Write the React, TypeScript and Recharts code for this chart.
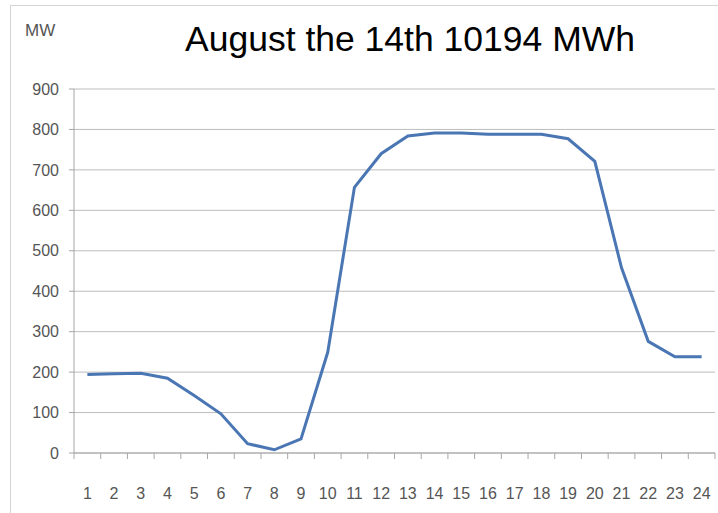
import React from 'react';
import { LineChart, Line, XAxis, YAxis, CartesianGrid } from 'recharts';

const hours = [1, 2, 3, 4, 5, 6, 7, 8, 9, 10, 11, 12, 13, 14, 15, 16, 17, 18, 19, 20, 21, 22, 23, 24];
const power = [194, 196, 197, 185, 142, 97, 23, 8, 35, 249, 657, 740, 784, 791, 791, 788, 788, 788, 777, 721, 458, 276, 238, 238];
const yTicks = [0, 100, 200, 300, 400, 500, 600, 700, 800, 900];
const titleText = 'August the 14th 10194 MWh';
const unitText = 'MW';

const data = hours.map((h, i) => ({ hour: h, mw: power[i] }));
const xTicks: number[] = [];
hours.forEach((h) => {
  xTicks.push(h - 0.5);
  xTicks.push(h);
});
xTicks.push(hours[hours.length - 1] + 0.5);

const LABEL_COLOR = '#555555';
const AXIS_COLOR = '#a6a6a6';
const GRID_COLOR = '#bdbdbd';
const FONT = '"Liberation Sans", Arial, sans-serif';

const XTick = (props: any) => {
  const { x, y, payload } = props;
  const v = payload.value;
  if (Number.isInteger(v)) {
    return (
      <text x={x} y={y + 46} textAnchor="middle" fontSize={16} fill={LABEL_COLOR} fontFamily={FONT}>
        {v}
      </text>
    );
  }
  return <line x1={x} x2={x} y1={y} y2={y + 6} stroke={AXIS_COLOR} strokeWidth={1} />;
};

export default function App() {
  return (
    <div style={{ position: 'absolute', left: 0, top: 0, width: 718, height: 513, background: '#fff', overflow: 'hidden' }}>
      <div style={{ position: 'absolute', left: 10, top: 5, right: 0, bottom: 0, borderLeft: '1px solid #d4d4d4', borderTop: '1px solid #d4d4d4' }} />
      <div style={{ position: 'absolute', left: 25, top: 21, fontFamily: FONT, fontSize: 17, color: LABEL_COLOR, lineHeight: '20px' }}>
        {unitText}
      </div>
      <div style={{ position: 'absolute', left: 0, width: 820, top: 18, textAlign: 'center', fontFamily: FONT, fontSize: 35.5, color: '#000', lineHeight: '42px', whiteSpace: 'nowrap' }}>
        {titleText}
      </div>
      <div style={{ position: 'absolute', left: 0, top: 0 }}>
        <LineChart width={718} height={513} data={data} margin={{ top: 89, right: 3, left: 0, bottom: 30 }}>
          <CartesianGrid horizontal={true} vertical={false} stroke={GRID_COLOR} />
          <XAxis
            dataKey="hour"
            type="number"
            domain={[0.5, 24.5]}
            ticks={xTicks}
            interval={0}
            tickLine={false}
            tickSize={0}
            tickMargin={0}
            height={30}
            stroke={AXIS_COLOR}
            tick={<XTick />}
          />
          <YAxis
            domain={[0, 900]}
            ticks={yTicks}
            width={74}
            tickSize={5}
            tickMargin={10}
            stroke={AXIS_COLOR}
            tick={{ fontSize: 16, fill: LABEL_COLOR, fontFamily: FONT }}
          />
          <Line
            dataKey="mw"
            type="linear"
            stroke="#4a76b4"
            strokeWidth={3}
            dot={false}
            isAnimationActive={false}
          />
        </LineChart>
      </div>
    </div>
  );
}
